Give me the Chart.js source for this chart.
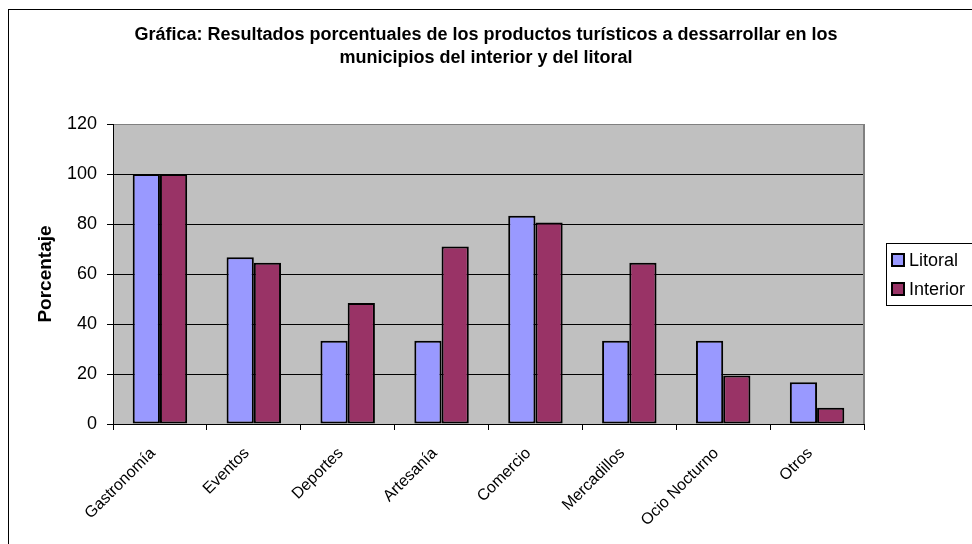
<!DOCTYPE html>
<html>
<head>
<meta charset="utf-8">
<script src="https://cdn.jsdelivr.net/npm/chart.js@4/dist/chart.umd.min.js"></script>
<style>
  body { margin: 0; background: #fff; }
  #wrap { width: 972px; height: 544px; }
</style>
</head>
<body>
<div id="wrap"><canvas id="chart" width="972" height="544"></canvas></div>
<script>
const categories = ["Gastronomía", "Eventos", "Deportes", "Artesanía", "Comercio", "Mercadillos", "Ocio Nocturno", "Otros"];
const litoral = [100, 66.7, 33.3, 33.3, 83.3, 33.3, 33.3, 16.7];
const interior = [100, 64.5, 48.4, 71.0, 80.6, 64.5, 19.4, 6.5];
const seriesNames = ["Litoral", "Interior"];
const yTicks = [0, 20, 40, 60, 80, 100, 120];

const FONT = "'Liberation Sans', Arial, sans-serif";

// grey plot background, grey right frame, outer border and boxed legend
const excelLook = {
  id: "excelLook",
  beforeDraw: (chart) => {
    const { ctx, chartArea } = chart;
    ctx.save();
    ctx.fillStyle = "#fff";
    ctx.fillRect(0, 0, chart.width, chart.height);
    ctx.fillStyle = "#c0c0c0";
    ctx.fillRect(chartArea.left, chartArea.top, chartArea.right - chartArea.left, chartArea.bottom - chartArea.top);
    ctx.strokeStyle = "#000";
    ctx.lineWidth = 1;
    ctx.strokeRect(8.5, 9.5, chart.width + 20, chart.height + 20);
    ctx.restore();
  },
  afterDraw: (chart) => {
    const { ctx, chartArea } = chart;
    ctx.save();
    ctx.strokeStyle = "#808080";
    ctx.lineWidth = 2;
    ctx.beginPath();
    ctx.moveTo(chartArea.right, chartArea.top);
    ctx.lineTo(chartArea.right, chartArea.bottom);
    ctx.stroke();

    // legend, read from the datasets
    ctx.strokeStyle = "#000";
    ctx.lineWidth = 1;
    ctx.strokeRect(886.5, 243.5, 200, 62);
    ctx.font = "18px " + FONT;
    ctx.textBaseline = "middle";
    ctx.textAlign = "left";
    chart.data.datasets.forEach((ds, i) => {
      const cy = 260 + i * 29;
      ctx.fillStyle = ds.backgroundColor;
      ctx.fillRect(892, cy - 6, 12, 12);
      ctx.strokeStyle = "#000";
      ctx.lineWidth = 2;
      ctx.strokeRect(892, cy - 6, 12, 12);
      ctx.fillStyle = "#000";
      ctx.fillText(ds.label, 909, cy + 1);
    });
    ctx.restore();
  },
};

new Chart(document.getElementById("chart"), {
  type: "bar",
  data: {
    labels: categories,
    datasets: [
      {
        label: seriesNames[0],
        data: litoral,
        backgroundColor: "#9999ff",
        borderColor: "#000",
        borderWidth: 2,
        borderSkipped: false,
      },
      {
        label: seriesNames[1],
        data: interior,
        backgroundColor: "#993366",
        borderColor: "#000",
        borderWidth: 2,
        borderSkipped: false,
      },
    ],
  },
  options: {
    responsive: false,
    animation: false,
    categoryPercentage: 0.58,
    barPercentage: 1.0,
    layout: { padding: 0 },
    plugins: {
      legend: { display: false },
      tooltip: { enabled: false },
      title: {
        display: true,
        text: [
          "Gráfica: Resultados porcentuales de los productos turísticos a dessarrollar en los",
          "municipios del interior y del litoral",
        ],
        color: "#000",
        font: { family: FONT, size: 18, weight: "bold", lineHeight: "23px" },
        padding: { top: 24, bottom: 54 },
      },
    },
    scales: {
      x: {
        afterFit: (scale) => { scale.height = 120; },
        grid: {
          offset: true,
          drawOnChartArea: false,
          color: "#000",
          tickLength: 6,
        },
        border: { color: "#000", width: 1 },
        ticks: {
          color: "#000",
          font: { family: FONT, size: 16 },
          minRotation: 45,
          maxRotation: 45,
          padding: 14,
          labelOffset: -7,
          autoSkip: false,
        },
      },
      y: {
        min: yTicks[0],
        max: yTicks[yTicks.length - 1],
        afterFit: (scale) => { scale.width = 113; },
        afterBuildTicks: (scale) => { scale.ticks = yTicks.map((v) => ({ value: v })); },
        grid: {
          color: (c) => (c.tick && c.tick.value === 120 ? "#808080" : "#000"),
          tickColor: "#000",
          tickLength: 6,
          lineWidth: 1,
        },
        border: { color: "#000", width: 1 },
        ticks: {
          color: "#000",
          font: { family: FONT, size: 18 },
          padding: 10,
        },
        title: {
          display: true,
          text: "Porcentaje",
          color: "#000",
          font: { family: FONT, size: 19, weight: "bold" },
          padding: { top: 34, bottom: 0 },
        },
      },
      // empty right-hand strip that leaves room for the legend
      legendSpace: {
        position: "right",
        afterFit: (scale) => { scale.width = 108; },
        grid: { display: false },
        border: { display: false },
        ticks: { display: false },
      },
    },
  },
  plugins: [excelLook],
});
</script>
</body>
</html>
